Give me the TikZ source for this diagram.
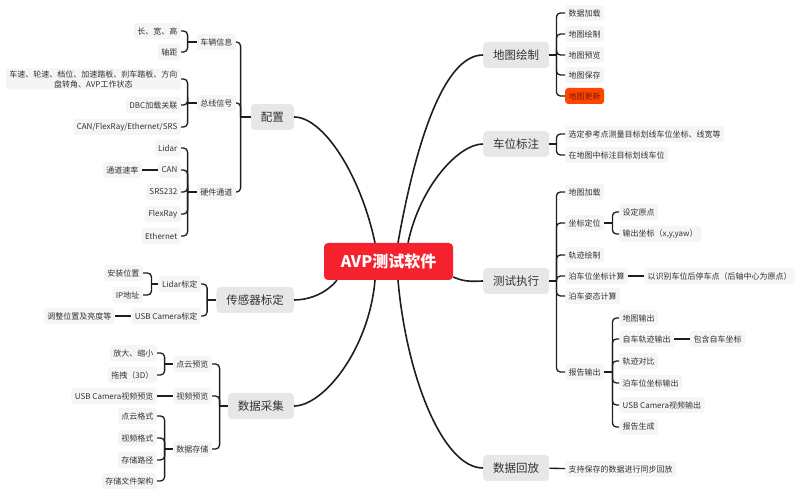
\documentclass[tikz,border=0pt]{standalone}
\usepackage{fontspec}
\setmainfont{Noto Sans CJK SC}
\usepackage{tikz}
\usetikzlibrary{calc}
\definecolor{xmRed}{RGB}{245,34,45}
\definecolor{xmOrange}{RGB}{255,69,0}
\definecolor{xmMain}{RGB}{231,231,231}
\definecolor{xmSub}{RGB}{245,245,245}
\definecolor{xmText}{RGB}{51,51,51}
\definecolor{xmLine}{RGB}{30,30,30}
\tikzset{
    root/.style={rectangle,rounded corners=4pt,fill=xmRed,text=white,font=\fontsize{16pt}{18pt}\selectfont\bfseries,minimum width=129pt,minimum height=37pt},
    main/.style={rectangle,rounded corners=4pt,fill=xmMain,text=xmText,font=\fontsize{11.5pt}{13pt}\selectfont,inner xsep=10pt,minimum height=26pt},
    sub/.style={rectangle,rounded corners=3pt,fill=xmSub,text=xmText,font=\fontsize{8pt}{10pt}\selectfont,inner xsep=3.5pt,inner ysep=2pt,minimum height=16pt,align=center},
    hot/.style={sub,fill=xmOrange,text=xmOrange!45!black},
    link/.style={draw=xmLine,line width=1.3pt},
    curve/.style={draw=xmLine,line width=1.6pt,out looseness=0.5,in looseness=1.2},
    lbrk/.style={link,rounded corners=4pt,to path={(\tikztotarget) |- (\tikztostart.east)}},
    rbrk/.style={link,rounded corners=4pt,to path={(\tikztotarget) |- (\tikztostart.west)}},
}
\begin{document}
\begin{tikzpicture}[x=1pt,y=1pt]
        \useasboundingbox (0,0) rectangle (800,494);

        % centre topic
        \node[root] (root) at (388.5,232.5) {AVP测试软件};
        \coordinate (root-a) at ($(root.north)+(-13.5,0)$);
        \coordinate (root-b) at ($(root.north)+(9.5,0)$);
        \coordinate (root-c) at ($(root.north)+(19.5,0)$);
        \coordinate (root-d) at ($(root.south)+(-51.5,0)$);
        \coordinate (root-e) at ($(root.south)+(-13.5,0)$);
        \coordinate (root-f) at ($(root.south)+(9.5,0)$);
        \coordinate (root-g) at ($(root.east)+(0,-15.5)$);

        % left: 配置
        \node[main,anchor=east] (cfg) at (294,377) {配置} edge[curve,out=0,in=102] (root-a);
        \coordinate (cfg-bar) at ($(cfg.west)+(-10,0)$);
        \draw[link] (cfg.west) -- (cfg-bar);
        \node[sub,anchor=east] (veh) at (236,452) {车辆信息} edge[lbrk] (cfg-bar);
        \node[sub,anchor=east] (bus) at (236,391) {总线信号} edge[lbrk] (cfg-bar);
        \node[sub,anchor=east] (hw)  at (236,302) {硬件通道} edge[lbrk] (cfg-bar);

        \coordinate (veh-bar) at ($(veh.west)+(-9,0)$);
        \draw[link] (veh.west) -- (veh-bar);
        \node[sub,anchor=east] (veh-dim) at (181,463) {长、宽、高} edge[lbrk] (veh-bar);
        \node[sub,anchor=east] (veh-wb)  at (181,442) {轴距} edge[lbrk] (veh-bar);

        \coordinate (bus-bar) at ($(bus.west)+(-9,0)$);
        \draw[link] (bus.west) -- (bus-bar);
        \node[sub,anchor=east] (bus-sig) at (181,415) {车速、轮速、档位、加速踏板、刹车踏板、方向\\盘转角、AVP工作状态} edge[lbrk] (bus-bar);
        \node[sub,anchor=east] (bus-dbc) at (181,389) {DBC加载关联} edge[lbrk] (bus-bar);
        \node[sub,anchor=east] (bus-net) at (181,367) {CAN/FlexRay/Ethernet/SRS} edge[lbrk] (bus-bar);

        \coordinate (hw-bar) at ($(hw.west)+(-9,0)$);
        \draw[link] (hw.west) -- (hw-bar);
        \node[sub,anchor=east] (hw-lidar) at (181,346) {Lidar} edge[lbrk] (hw-bar);
        \node[sub,anchor=east] (hw-can)   at (181,324) {CAN} edge[lbrk] (hw-bar);
        \node[sub,anchor=east] (hw-srs)   at (181,302) {SRS232} edge[lbrk] (hw-bar);
        \node[sub,anchor=east] (hw-flex)  at (181,280) {FlexRay} edge[lbrk] (hw-bar);
        \node[sub,anchor=east] (hw-eth)   at (181,258) {Ethernet} edge[lbrk] (hw-bar);
        \node[sub,anchor=east] (can-rate) at (142,324) {通道速率} edge[link] (hw-can);

        % left: 传感器标定
        \node[main,anchor=east] (sensor) at (294,194) {传感器标定} edge[curve,out=0,in=230] (root-d);
        \coordinate (sensor-bar) at ($(sensor.west)+(-9,0)$);
        \draw[link] (sensor.west) -- (sensor-bar);
        \node[sub,anchor=east] (lid) at (201,210) {Lidar标定} edge[lbrk] (sensor-bar);
        \node[sub,anchor=east] (usb) at (201,178) {USB Camera标定} edge[lbrk] (sensor-bar);

        \coordinate (lid-bar) at ($(lid.west)+(-7,0)$);
        \draw[link] (lid.west) -- (lid-bar);
        \node[sub,anchor=east] (lid-pos) at (143,221) {安装位置} edge[lbrk] (lid-bar);
        \node[sub,anchor=east] (lid-ip)  at (143,199) {IP地址} edge[lbrk] (lid-bar);
        \node[sub,anchor=east] (usb-adj) at (115,178) {调整位置及亮度等} edge[link] (usb);

        % left: 数据采集
        \node[main,anchor=east] (collect) at (294,88) {数据采集} edge[curve,out=0,in=265] (root-e);
        \coordinate (collect-bar) at ($(collect.west)+(-8,0)$);
        \draw[link] (collect.west) -- (collect-bar);
        \node[sub,anchor=east] (pcv) at (212,130) {点云预览} edge[lbrk] (collect-bar);
        \node[sub,anchor=east] (vid) at (212,98)  {视频预览} edge[lbrk] (collect-bar);
        \node[sub,anchor=east] (sto) at (212,45)  {数据存储} edge[lbrk] (collect-bar);

        \coordinate (pcv-bar) at ($(pcv.west)+(-8,0)$);
        \draw[link] (pcv.west) -- (pcv-bar);
        \node[sub,anchor=east] (pcv-zoom) at (157,141) {放大、缩小} edge[lbrk] (pcv-bar);
        \node[sub,anchor=east] (pcv-drag) at (157,119) {拖拽（3D）} edge[lbrk] (pcv-bar);
        \node[sub,anchor=east] (vid-usb)  at (157,98)  {USB Camera视频预览} edge[link] (vid);

        \coordinate (sto-bar) at ($(sto.west)+(-8,0)$);
        \draw[link] (sto.west) -- (sto-bar);
        \node[sub,anchor=east] (sto-pc)   at (157,78) {点云格式} edge[lbrk] (sto-bar);
        \node[sub,anchor=east] (sto-vid)  at (157,56) {视频格式} edge[lbrk] (sto-bar);
        \node[sub,anchor=east] (sto-path) at (157,34) {存储路径} edge[lbrk] (sto-bar);
        \node[sub,anchor=east] (sto-arch) at (157,13) {存储文件架构} edge[lbrk] (sto-bar);

        % right: 地图绘制
        \node[main,anchor=west] (mapdraw) at (483,439) {地图绘制} edge[curve,out=180,in=80] (root-b);
        \coordinate (mapdraw-bar) at ($(mapdraw.east)+(7,0)$);
        \draw[link] (mapdraw.east) -- (mapdraw-bar);
        \node[sub,anchor=west] (map-load) at (565,481) {数据加载} edge[rbrk] (mapdraw-bar);
        \node[sub,anchor=west] (map-draw) at (565,460) {地图绘制} edge[rbrk] (mapdraw-bar);
        \node[sub,anchor=west] (map-view) at (565,439) {地图预览} edge[rbrk] (mapdraw-bar);
        \node[sub,anchor=west] (map-save) at (565,419) {地图保存} edge[rbrk] (mapdraw-bar);
        \node[hot,anchor=west] (map-upd)  at (565,398) {地图更新} edge[rbrk] (mapdraw-bar);

        % right: 车位标注
        \node[main,anchor=west] (slot) at (483,350) {车位标注} edge[curve,out=180,in=78] (root-c);
        \coordinate (slot-bar) at ($(slot.east)+(7,0)$);
        \draw[link] (slot.east) -- (slot-bar);
        \node[sub,anchor=west] (slot-meas) at (565,360) {选定参考点测量目标划线车位坐标、线宽等} edge[rbrk] (slot-bar);
        \node[sub,anchor=west] (slot-mark) at (565,339) {在地图中标注目标划线车位} edge[rbrk] (slot-bar);

        % right: 测试执行
        \node[main,anchor=west] (exec) at (483,213) {测试执行} edge[curve,out=180,in=-25] (root-g);
        \coordinate (exec-bar) at ($(exec.east)+(7,0)$);
        \draw[link] (exec.east) -- (exec-bar);
        \node[sub,anchor=west] (ex-load) at (565,302) {地图加载} edge[rbrk] (exec-bar);
        \node[sub,anchor=west] (ex-pos)  at (565,271) {坐标定位} edge[rbrk] (exec-bar);
        \node[sub,anchor=west] (ex-trk)  at (565,239) {轨迹绘制} edge[rbrk] (exec-bar);
        \node[sub,anchor=west] (ex-slot) at (565,218) {泊车位坐标计算} edge[rbrk] (exec-bar);
        \node[sub,anchor=west] (ex-pose) at (565,198) {泊车姿态计算} edge[rbrk] (exec-bar);
        \node[sub,anchor=west] (ex-rep)  at (565,122) {报告输出} edge[rbrk] (exec-bar);

        \coordinate (pos-bar) at ($(ex-pos.east)+(8,0)$);
        \draw[link] (ex-pos.east) -- (pos-bar);
        \node[sub,anchor=west] (pos-org) at (619,282) {设定原点} edge[rbrk] (pos-bar);
        \node[sub,anchor=west] (pos-out) at (619,260) {输出坐标（x,y,yaw）} edge[rbrk] (pos-bar);
        \node[sub,anchor=west] (slot-ref) at (644,218) {以识别车位后停车点（后轴中心为原点）} edge[link] (ex-slot);

        \coordinate (rep-bar) at ($(ex-rep.east)+(8,0)$);
        \draw[link] (ex-rep.east) -- (rep-bar);
        \node[sub,anchor=west] (rep-map)  at (619,176) {地图输出} edge[rbrk] (rep-bar);
        \node[sub,anchor=west] (rep-trk)  at (619,155) {自车轨迹输出} edge[rbrk] (rep-bar);
        \node[sub,anchor=west] (rep-cmp)  at (619,133) {轨迹对比} edge[rbrk] (rep-bar);
        \node[sub,anchor=west] (rep-slot) at (619,111) {泊车位坐标输出} edge[rbrk] (rep-bar);
        \node[sub,anchor=west] (rep-usb)  at (619,89)  {USB Camera视频输出} edge[rbrk] (rep-bar);
        \node[sub,anchor=west] (rep-gen)  at (619,67)  {报告生成} edge[rbrk] (rep-bar);
        \node[sub,anchor=west] (trk-ego)  at (690,155) {包含自车坐标} edge[link] (rep-trk);

        % right: 数据回放
        \node[main,anchor=west] (replay) at (483,26) {数据回放} edge[curve,out=180,in=275] (root-f);
        \node[sub,anchor=west] (rp-sync) at (565,25) {支持保存的数据进行同步回放} edge[link] (replay);
\end{tikzpicture}
\end{document}
